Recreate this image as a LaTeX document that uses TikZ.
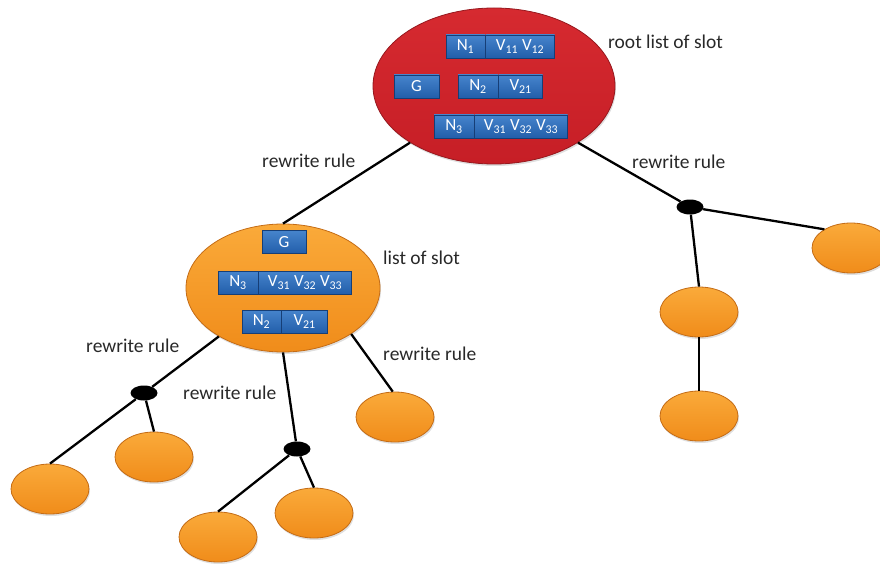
\documentclass[tikz,border=0pt]{standalone}
\usepackage{fontspec}
\setmainfont{Carlito}
\usetikzlibrary{positioning,shapes.geometric,shadows}

\definecolor{redtop}{RGB}{214,42,48}
\definecolor{redbot}{RGB}{198,30,38}
\definecolor{rededge}{RGB}{150,24,30}
\definecolor{orangetop}{RGB}{250,170,58}
\definecolor{orangebot}{RGB}{240,140,26}
\definecolor{orangeedge}{RGB}{196,108,22}
\definecolor{boxtop}{RGB}{70,132,204}
\definecolor{boxbot}{RGB}{34,94,170}
\definecolor{boxedge}{RGB}{22,62,118}
\definecolor{labelgray}{RGB}{40,40,40}

\begin{document}
\begin{tikzpicture}[
    x=1pt, y=-1pt,
    slotlist/.style={ellipse, draw=orangeedge, line width=0.8pt, inner sep=0pt,
        top color=orangetop, bottom color=orangebot,
        drop shadow={opacity=0.25, shadow xshift=1pt, shadow yshift=-2pt}},
    rootlist/.style={slotlist, draw=rededge, top color=redtop, bottom color=redbot,
        minimum width=242pt, minimum height=156pt},
    sublist/.style={slotlist, minimum width=194pt, minimum height=128pt},
    leaf/.style={slotlist, minimum width=78pt, minimum height=50pt},
    branch/.style={ellipse, fill=black, minimum width=27pt, minimum height=15pt, inner sep=0pt},
    slotbox/.style={rectangle, draw=boxedge, line width=0.6pt, top color=boxtop, bottom color=boxbot,
        text=white, minimum height=23pt, inner sep=0pt, font=\fontsize{17}{17}\selectfont},
    rulelabel/.style={anchor=west, text=labelgray, inner sep=0pt, font=\fontsize{19.5}{19.5}\selectfont},
    edge/.style={line width=2.3pt, black}
]
\useasboundingbox (0,0) rectangle (880,564);

% slot lists
\node[rootlist] (root) at (494,86) {};
\node[sublist] (sub) at (283,288) {};

% slots of the root list
\node[slotbox, minimum width=39pt] (n1) at (465.5,46.5) {N\textsubscript{1}};
\node[slotbox, minimum width=69pt, right=0pt of n1] (v1) {V\textsubscript{11} V\textsubscript{12}};
\node[slotbox, minimum width=45pt] (g) at (416.5,86.5) {G};
\node[slotbox, minimum width=40pt] (n2) at (478,86.5) {N\textsubscript{2}};
\node[slotbox, minimum width=44pt, right=0pt of n2] (v2) {V\textsubscript{21}};
\node[slotbox, minimum width=40pt] (n3) at (454,126.5) {N\textsubscript{3}};
\node[slotbox, minimum width=93pt, right=0pt of n3] (v3) {V\textsubscript{31} V\textsubscript{32} V\textsubscript{33}};

% slots of the sub list
\node[slotbox, minimum width=44pt] (sg) at (284,242) {G};
\node[slotbox, minimum width=40pt] (sn3) at (238,282.5) {N\textsubscript{3}};
\node[slotbox, minimum width=93pt, right=0pt of sn3] (sv3) {V\textsubscript{31} V\textsubscript{32} V\textsubscript{33}};
\node[slotbox, minimum width=39pt] (sn2) at (261.5,321.5) {N\textsubscript{2}};
\node[slotbox, minimum width=46pt, right=0pt of sn2] (sv2) {V\textsubscript{21}};

% branch points and leaves
\node[branch] (rdot) at (690,207) {};
\node[branch] (ldot) at (144,393) {};
\node[branch] (mdot) at (297,449) {};
\node[leaf] (rleafa) at (851,248) {};
\node[leaf] (rleafb) at (699,312) {};
\node[leaf] (rleafc) at (699,416) {};
\node[leaf] (leafa) at (50,489) {};
\node[leaf] (leafb) at (154,457) {};
\node[leaf] (leafc) at (218,537) {};
\node[leaf] (leafd) at (314,513) {};
\node[leaf] (leafe) at (395,417) {};

% rewrite rules
\draw[edge] (root.214) -- (sub.north);
\draw[edge] (root.326) -- (rdot);
\draw[edge] (rdot) -- (rleafa.145);
\draw[edge] (rdot) -- (rleafb.north);
\draw[edge] (rleafb) -- (rleafc);
\draw[edge] (sub) -- (ldot);
\draw[edge] (ldot) -- (leafa.north);
\draw[edge] (ldot) -- (leafb.north);
\draw[edge] (sub.south) -- (mdot);
\draw[edge] (mdot) -- (leafc.north);
\draw[edge] (mdot) -- (leafd.north);
\draw[edge] (sub.326) -- (leafe.95);

% labels
\node[rulelabel] (rootlbl) at (608,42) {root list of slot};
\node[rulelabel] (sublbl) at (383,258) {list of slot};
\node[rulelabel] (rule1) at (262,161) {rewrite rule};
\node[rulelabel] (rule2) at (632,162) {rewrite rule};
\node[rulelabel] (rule3) at (86,346) {rewrite rule};
\node[rulelabel] (rule4) at (183,393) {rewrite rule};
\node[rulelabel] (rule5) at (383,354) {rewrite rule};
\end{tikzpicture}
\end{document}
